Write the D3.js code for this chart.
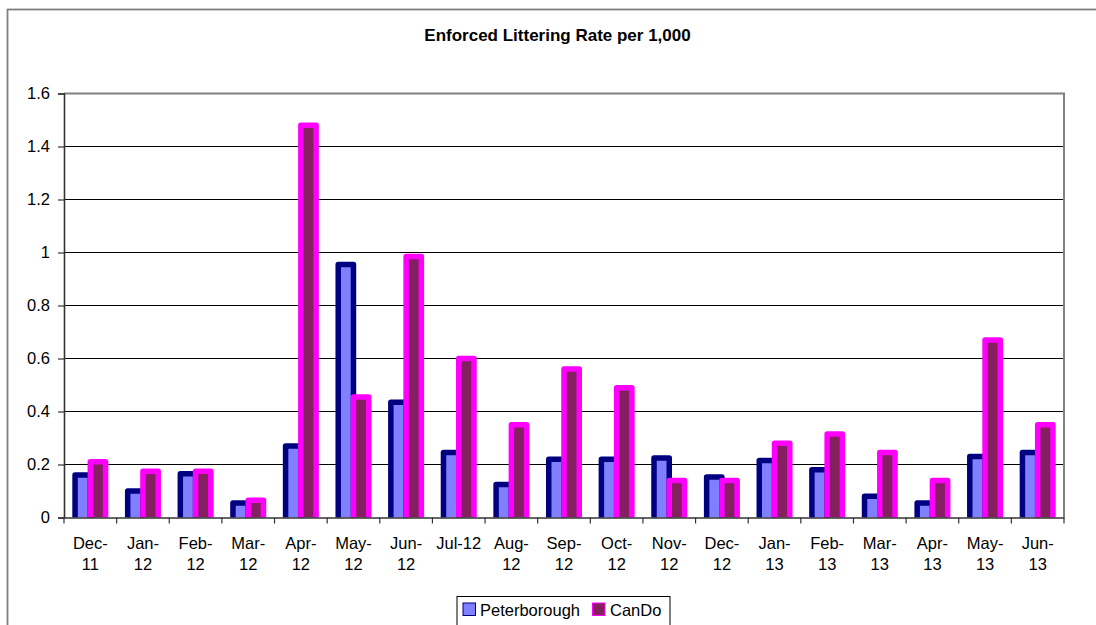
<!DOCTYPE html>
<html>
<head>
<meta charset="utf-8">
<script src="https://cdn.jsdelivr.net/npm/d3@7"></script>
<style>
  html, body { margin: 0; padding: 0; background: #fff; }
  svg { display: block; font-family: "Liberation Sans", Arial, sans-serif; }
</style>
</head>
<body>
<svg id="chart" width="1096" height="625"></svg>
<script>
// Monthly categories and their two-line axis labels
const categories = ["Dec-11","Jan-12","Feb-12","Mar-12","Apr-12","May-12","Jun-12","Jul-12","Aug-12",
  "Sep-12","Oct-12","Nov-12","Dec-12","Jan-13","Feb-13","Mar-13","Apr-13","May-13","Jun-13"];
const tickLabels = [["Dec-","11"],["Jan-","12"],["Feb-","12"],["Mar-","12"],["Apr-","12"],["May-","12"],
  ["Jun-","12"],["Jul-12"],["Aug-","12"],["Sep-","12"],["Oct-","12"],["Nov-","12"],["Dec-","12"],
  ["Jan-","13"],["Feb-","13"],["Mar-","13"],["Apr-","13"],["May-","13"],["Jun-","13"]];

// Littering rate per 1,000 for each series
const peterborough = [0.16, 0.10, 0.165, 0.055, 0.27, 0.955, 0.435, 0.245, 0.125, 0.22,
  0.22, 0.225, 0.153, 0.215, 0.18, 0.08, 0.055, 0.23, 0.245];
const canDo = [0.21, 0.175, 0.175, 0.065, 1.48, 0.455, 0.985, 0.60, 0.35, 0.56,
  0.49, 0.14, 0.14, 0.28, 0.315, 0.245, 0.14, 0.67, 0.35];

const seriesNames = ["Peterborough", "CanDo"];
const yTicks = [0, 0.2, 0.4, 0.6, 0.8, 1, 1.2, 1.4, 1.6];

const series = [
  { name: seriesNames[0], values: peterborough, fill: "#8080FF", stroke: "#000080" },
  { name: seriesNames[1], values: canDo, fill: "#84205F", stroke: "#FF00FF" }
];

const svg = d3.select("#chart");
const plot = { left: 64, right: 1064, top: 93.5, bottom: 517.5 };

// Outer chart frame
svg.append("rect")
  .attr("x", 7.5).attr("y", 9.5).attr("width", 1100).attr("height", 630)
  .attr("fill", "#fff").attr("stroke", "#808080").attr("stroke-width", 1.8);

// Title
svg.append("text")
  .attr("x", 557.5).attr("y", 40.5)
  .attr("text-anchor", "middle")
  .attr("font-weight", "bold").attr("font-size", 17)
  .text("Enforced Littering Rate per 1,000");

const x0 = d3.scaleBand().domain(categories).range([plot.left, plot.right]).padding(0);
const bw = x0.bandwidth();
const x1 = d3.scaleBand().domain(seriesNames).range([0.21 * bw, 0.79 * bw]).padding(0);
const y = d3.scaleLinear().domain([0, 1.6]).range([plot.bottom, plot.top]);

// Horizontal gridlines
svg.append("g")
  .selectAll("line")
  .data(yTicks.filter(t => t > 0 && t < 1.6))
  .join("line")
  .attr("x1", plot.left).attr("x2", plot.right)
  .attr("y1", d => y(d)).attr("y2", d => y(d))
  .attr("stroke", "#000").attr("stroke-width", 1);

// Plot area border (top and right)
svg.append("path")
  .attr("d", `M${plot.left},${plot.top}H${plot.right}V${plot.bottom}`)
  .attr("fill", "none").attr("stroke", "#808080").attr("stroke-width", 2);

// Bars, clipped at the baseline
svg.append("clipPath").attr("id", "plotClip")
  .append("rect")
  .attr("x", plot.left).attr("y", 0)
  .attr("width", plot.right - plot.left).attr("height", plot.bottom);

const barLayer = svg.append("g").attr("clip-path", "url(#plotClip)");
categories.forEach((c, i) => {
  series.forEach(s => {
    const v = s.values[i];
    barLayer.append("rect")
      .attr("x", x0(c) + x1(s.name))
      .attr("y", y(v))
      .attr("width", x1.bandwidth())
      .attr("height", y(0) - y(v) + 4)
      .attr("fill", s.fill)
      .attr("stroke", s.stroke)
      .attr("stroke-width", 5.5)
      .attr("stroke-linejoin", "round");
  });
});

// Y axis
const yAxis = svg.append("g")
  .attr("transform", `translate(${plot.left},0)`)
  .call(d3.axisLeft(y).tickValues(yTicks).tickFormat(d3.format("")).tickSize(6).tickPadding(8));
yAxis.select(".domain").attr("stroke", "#333").attr("stroke-width", 1.6);
yAxis.selectAll(".tick line").attr("stroke", "#333").attr("stroke-width", 1.2);
yAxis.selectAll(".tick text")
  .attr("font-size", 16.5).attr("fill", "#000")
  .attr("font-family", "Liberation Sans, Arial, sans-serif");

// X axis: baseline, boundary ticks and wrapped labels
const xAxis = svg.append("g")
  .attr("transform", `translate(0,${plot.bottom})`)
  .call(d3.axisBottom(x0).tickSize(0).tickPadding(0).tickFormat(""));
xAxis.select(".domain").attr("stroke", "#333").attr("stroke-width", 1.6);

const boundaries = categories.map(c => x0(c)).concat([x0.range()[1]]);
xAxis.selectAll("line.boundary")
  .data(boundaries)
  .join("line")
  .attr("class", "boundary")
  .attr("x1", d => d).attr("x2", d => d)
  .attr("y1", 0).attr("y2", 6)
  .attr("stroke", "#333").attr("stroke-width", 1.2);

xAxis.selectAll(".tick").each(function(d, i) {
  const t = d3.select(this).select("text")
    .attr("font-size", 16.5).attr("fill", "#000")
    .attr("font-family", "Liberation Sans, Arial, sans-serif")
    .attr("y", 0).attr("dy", null);
  tickLabels[i].forEach((line, k) => {
    t.append("tspan").attr("x", 0).attr("y", 31.5 + k * 21).text(line);
  });
});

// Legend
const legend = svg.append("g");
legend.append("rect")
  .attr("x", 457).attr("y", 596.5).attr("width", 213).attr("height", 30)
  .attr("fill", "#fff").attr("stroke", "#000").attr("stroke-width", 1);
const legendItems = [
  { s: series[0], sx: 463, tx: 480 },
  { s: series[1], sx: 592.5, tx: 610 }
];
legendItems.forEach(it => {
  legend.append("rect")
    .attr("x", it.sx).attr("y", 603).attr("width", 12.5).attr("height", 12.5)
    .attr("fill", it.s.fill).attr("stroke", it.s.stroke).attr("stroke-width", 1);
  legend.append("text")
    .attr("x", it.tx).attr("y", 615.5)
    .attr("font-size", 16.5)
    .text(it.s.name);
});
</script>
</body>
</html>
